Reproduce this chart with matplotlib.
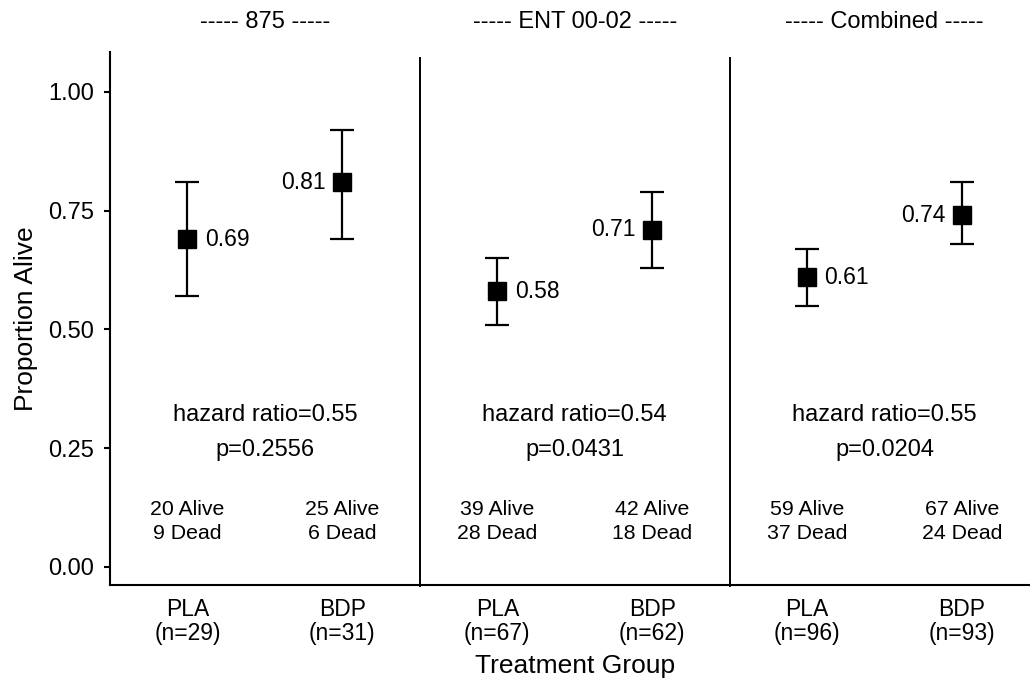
import numpy as np
import matplotlib
matplotlib.use("Agg")
import matplotlib.pyplot as plt

plt.rcParams['font.family'] = ['Liberation Sans', 'DejaVu Sans']

# Survival summary per study and treatment arm
studies = ['875', 'ENT 00-02', 'Combined']
arms = ['PLA', 'BDP']
n_total = [29, 31, 67, 62, 96, 93]
alive = [20, 25, 39, 42, 59, 67]
dead = [9, 6, 28, 18, 37, 24]
prop_alive = [0.69, 0.81, 0.58, 0.71, 0.61, 0.74]
ci_low = [0.57, 0.69, 0.51, 0.63, 0.55, 0.68]
ci_high = [0.81, 0.92, 0.65, 0.79, 0.67, 0.81]
hazard_ratio = [0.55, 0.54, 0.55]
p_values = ['0.2556', '0.0431', '0.0204']

W, H = 1030, 681
fig = plt.figure(figsize=(W / 100, H / 100), dpi=100)
ax = fig.add_axes([110 / W, (H - 585) / H, 929.5 / W, (585 - 52) / H])

x = np.arange(len(prop_alive))
y = np.array(prop_alive)
yerr = np.vstack([y - np.array(ci_low), np.array(ci_high) - y])

ax.errorbar(x, y, yerr=yerr, fmt='s', color='black', markersize=13,
            capsize=8.5, elinewidth=1.6, capthick=1.6, zorder=3)

for i, v in enumerate(prop_alive):
    if i % 2 == 0:
        ax.annotate('%.2f' % v, (i, v), xytext=(12.5, 0), textcoords='offset points',
                    ha='left', va='center', fontsize=16.5)
    else:
        ax.annotate('%.2f' % v, (i, v), xytext=(-12, 0), textcoords='offset points',
                    ha='right', va='center', fontsize=16.5)
    ax.text(i, 0.096, '%d Alive\n%d Dead' % (alive[i], dead[i]), ha='center',
            va='center', fontsize=15.3, linespacing=1.3)

for g, name in enumerate(studies):
    xc = 2 * g + 0.5
    ax.text(xc, 0.32, 'hazard ratio=%.2f' % hazard_ratio[g], ha='center',
            va='center', fontsize=17)
    ax.text(xc, 0.246, 'p=%s' % p_values[g], ha='center', va='center', fontsize=17)
    ax.text(xc, 1.148, '----- %s -----' % name, ha='center', va='center', fontsize=17)

# group dividers
for xd in [1.5, 3.5]:
    ax.plot([xd, xd], [-0.04, 1.072], color='black', lw=1.4, clip_on=False)

ax.set_xlim(-0.5, 5.5)
ax.set_ylim(-0.038, 1.084)
ax.set_yticks([0, 0.25, 0.5, 0.75, 1.0])
ax.set_yticklabels(['0.00', '0.25', '0.50', '0.75', '1.00'], fontsize=17)
ax.set_xticks(x)
ax.set_xticklabels(['%s\n(n=%d)' % (arms[i % 2], n_total[i]) for i in x], fontsize=16.5,
                   linespacing=1.1)
ax.tick_params(axis='x', length=0, pad=9)
ax.tick_params(axis='y', length=4.5, width=1.5, pad=7)

ax.spines['top'].set_visible(False)
ax.spines['right'].set_visible(False)
ax.spines['left'].set_linewidth(1.5)
ax.spines['bottom'].set_linewidth(1.5)

ax.set_ylabel('Proportion Alive', fontsize=19, labelpad=7)
ax.set_xlabel('Treatment Group', fontsize=19, labelpad=6)

fig.savefig('out.png', dpi=100)
